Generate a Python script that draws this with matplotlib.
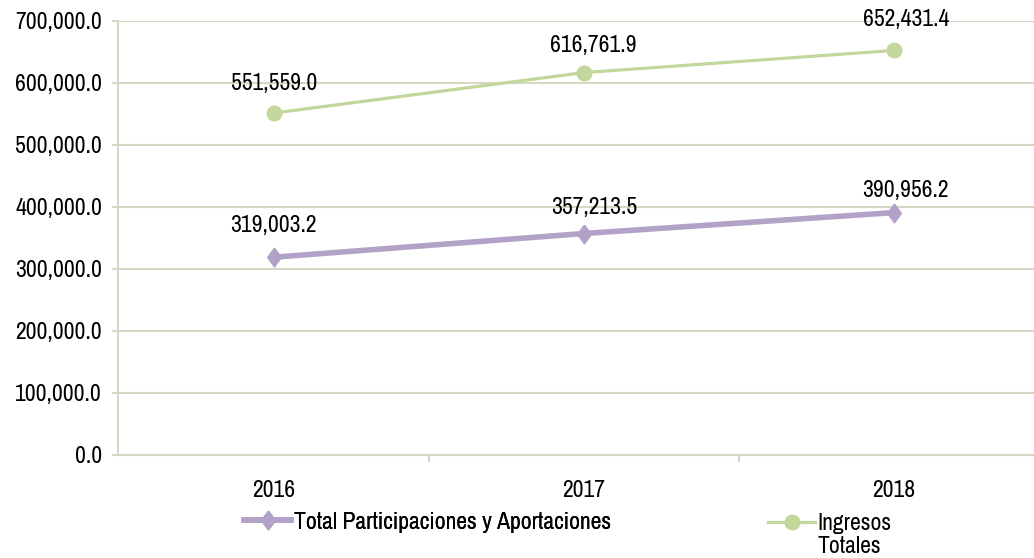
import matplotlib.pyplot as plt
from matplotlib.ticker import FuncFormatter
from matplotlib.legend_handler import HandlerLine2D

plt.rcParams['font.family'] = ['Archivo Narrow', 'Liberation Sans', 'DejaVu Sans']

# datos
years = ["2016", "2017", "2018"]
participaciones = [319003.2, 357213.5, 390956.2]
ingresos = [551559.0, 616761.9, 652431.4]
label_part = "Total Participaciones y Aportaciones"
label_ing = "Ingresos\nTotales"

# desplazamiento de etiquetas (px)
part_dx = [0, 10, 12]
part_dy = [32, 26, 22]
ing_dx = [0, 9, 12]
ing_dy = [30, 27, 31]

c_part = "#b3a2c7"
c_ing = "#c3d69b"
c_grid = "#d7d7c4"
fs = 17

diamond = [(0, 1), (0.74, 0), (0, -1), (-0.74, 0), (0, 1)]


class HandlerShift(HandlerLine2D):
    # sube el símbolo a la primera línea del texto
    def __init__(self, shift, **kw):
        super().__init__(**kw)
        self.shift = shift

    def create_artists(self, legend, orig_handle, xdescent, ydescent, width, height, fontsize, trans):
        arts = super().create_artists(legend, orig_handle, xdescent, ydescent, width, height, fontsize, trans)
        for a in arts:
            a.set_ydata([y + self.shift for y in a.get_ydata()])
        return arts


fig = plt.figure(figsize=(10.34, 5.58), dpi=100)
ax = fig.add_axes([0.114, 0.1846, 0.886, 0.7778])

x = list(range(len(years)))
l1, = ax.plot(x, participaciones, color=c_part, lw=4, marker=diamond, ms=13.5, label=label_part)
l2, = ax.plot(x, ingresos, color=c_ing, lw=2.3, marker="o", ms=10.5, label=label_ing)

px = 72 / 100
for xi, v, dx, dy in zip(x, participaciones, part_dx, part_dy):
    ax.annotate(f"{v:,.1f}", (xi, v), xytext=(dx * px, dy * px), textcoords="offset points",
                ha="center", va="center", fontsize=fs)
for xi, v, dx, dy in zip(x, ingresos, ing_dx, ing_dy):
    ax.annotate(f"{v:,.1f}", (xi, v), xytext=(dx * px, dy * px), textcoords="offset points",
                ha="center", va="center", fontsize=fs)

ax.set_xlim(-0.503, 2.452)
ax.set_ylim(0, 700000)
ax.set_yticks(range(0, 700001, 100000))
ax.yaxis.set_major_formatter(FuncFormatter(lambda v, p: f"{v:,.1f}"))
ax.set_xticks(x)
ax.set_xticklabels(years)
ax.set_xticks([0.5, 1.5], minor=True)
ax.tick_params(axis="x", which="major", length=0, pad=18, labelsize=fs)
ax.tick_params(axis="x", which="minor", length=5, color=c_grid, width=1.5)
ax.tick_params(axis="y", length=4.5, color=c_grid, width=1.5, labelsize=fs, pad=7)

ax.grid(axis="y", color=c_grid, lw=1.5)
ax.set_axisbelow(True)
for s in ["top", "right"]:
    ax.spines[s].set_visible(False)
for s in ["left", "bottom"]:
    ax.spines[s].set_color(c_grid)
    ax.spines[s].set_linewidth(1.5)

leg1 = fig.legend(handles=[l1], loc="center left", bbox_to_anchor=(0.236, 0.0645), frameon=False,
                  fontsize=fs, handlelength=2.0, handletextpad=0.1, borderaxespad=0, borderpad=0)
leg2 = fig.legend(handles=[l2], loc="center left", bbox_to_anchor=(0.7427, 0.041), frameon=False,
                  fontsize=fs, handlelength=2.0, handletextpad=0.1, borderaxespad=0, borderpad=0,
                  handler_map={l2: HandlerShift(9.5)})
leg2.get_texts()[0].set_linespacing(1.15)
fig.add_artist(leg1)

fig.savefig("out.png", dpi=100)
